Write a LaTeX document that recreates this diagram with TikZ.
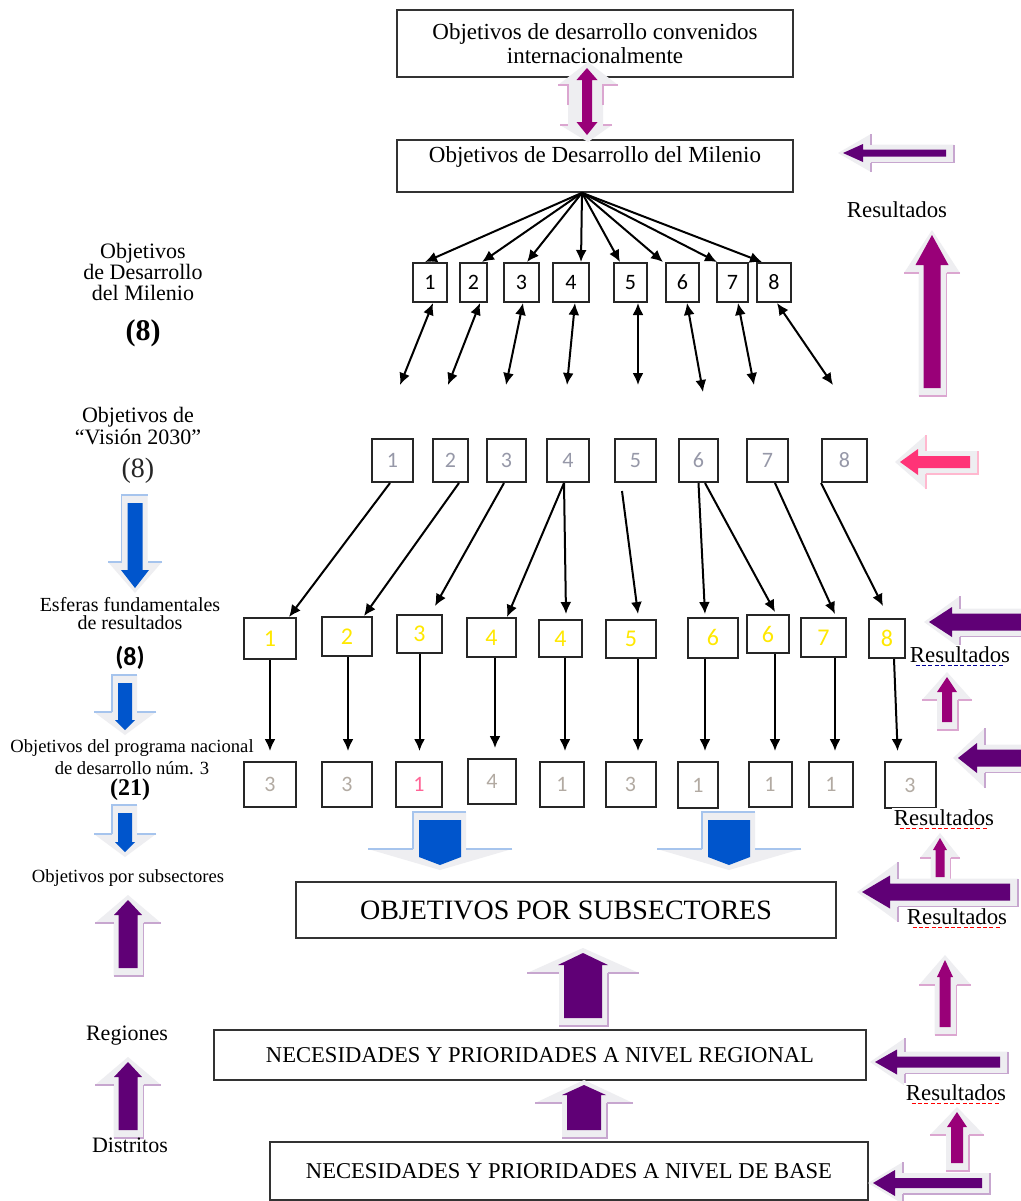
\documentclass[tikz,border=0pt]{standalone}
\usepackage{fontspec}
\setmainfont{Liberation Serif}
\newfontfamily\carlito{Carlito}
\usepackage{tikz}
\usetikzlibrary{arrows.meta}

\definecolor{plum}{RGB}{96,0,118}
\definecolor{magentap}{RGB}{153,0,120}
\definecolor{hotpink}{RGB}{255,51,119}
\definecolor{wordblue}{RGB}{0,85,204}
\definecolor{halogray}{RGB}{238,238,241}
\definecolor{numgray}{RGB}{150,152,168}
\definecolor{numbeige}{RGB}{178,170,162}
\definecolor{numpink}{RGB}{255,100,150}
\definecolor{numyellow}{RGB}{255,232,0}

% block arrow with its shadow: tip x, tip y, turn, length, shaft half, head half, head length, colour, shadow head half
\newcommand{\BlockArrow}[9]{%
  \begin{scope}[shift={(#1,#2)},#3]
    \fill[halogray] (0,-5) -- (#9,{#7+8}) -- ({#5+6},{#7+8}) -- ({#5+6},{#4+8}) -- ({-#5-5},{#4+8}) -- ({-#5-5},{#7+8}) -- (-#9,{#7+8}) -- cycle;
    \draw[#8!35,line width=0.8pt] (-#9,{#7+8}) -- ({-#5-5},{#7+8}) ({#5+6},{#7+8}) -- (#9,{#7+8})
      ({#5+6},{#7+8}) -- ({#5+6},{#4+8}) -- ({-#5-5},{#4+8});
    \fill[#8] (0,0) -- (#6,#7) -- (#5,#7) -- (#5,#4) -- (-#5,#4) -- (-#5,#7) -- (-#6,#7) -- cycle;
  \end{scope}}

\begin{document}
\begin{tikzpicture}[x=0.5pt, y=-0.5pt,
  BigBox/.style = {draw=black!80, line width=0.8pt, fill=white, align=center, inner sep=0pt},
  NumBox/.style = {draw=black!85, line width=1pt, fill=white, inner sep=0pt, font=\carlito\fontsize{11}{11}\selectfont},
  Link/.style = {-{Latex[length=6pt,width=5.5pt]}, line width=1pt},
  BiLink/.style = {{Latex[length=6pt,width=5.5pt]}-{Latex[length=6pt,width=5.5pt]}, line width=1pt},
  SideText/.style = {align=center, inner sep=0pt},
  ResultText/.style = {fill=white, inner sep=1pt, font=\fontsize{11.4}{12}\selectfont},
  Squiggle/.style = {dash pattern=on 2pt off 1.2pt, line width=0.4pt}]

  \useasboundingbox (0,0) rectangle (1021,1201);
  \fill[white] (0,0) rectangle (1021,1201);
  \clip (0,0) rectangle (1021,1201);

  % main boxes
  \node[BigBox, minimum width=198pt, minimum height=33.5pt, font=\fontsize{11.5}{12}\selectfont] (intl) at (595,43.5)
    {Objetivos de desarrollo convenidos\\internacionalmente};
  \node[BigBox, minimum width=198pt, minimum height=26pt, text depth=11pt, font=\fontsize{11.5}{12}\selectfont] (mdg) at (595,166)
    {Objetivos de Desarrollo del Milenio};
  \node[BigBox, minimum width=270pt, minimum height=28pt, font=\fontsize{14}{14}\selectfont] (subsect) at (566,910)
    {OBJETIVOS POR SUBSECTORES};
  \node[BigBox, minimum width=326pt, minimum height=25pt, font=\fontsize{11.3}{12}\selectfont] (regional) at (540,1055)
    {NECESIDADES Y PRIORIDADES A NIVEL REGIONAL};
  \node[BigBox, minimum width=299pt, minimum height=29pt, font=\fontsize{11.3}{12}\selectfont] (base) at (569,1171)
    {NECESIDADES Y PRIORIDADES A NIVEL DE BASE};

  % Milenio goals
  \node[NumBox, minimum width=17pt, minimum height=19.5pt] (a1) at (430,282.5) {1};
  \node[NumBox, minimum width=13.5pt, minimum height=19.5pt] (a2) at (473.5,282.5) {2};
  \node[NumBox, minimum width=17.5pt, minimum height=19.5pt] (a3) at (521.5,282.5) {3};
  \node[NumBox, minimum width=18pt, minimum height=19.5pt] (a4) at (571,282.5) {4};
  \node[NumBox, minimum width=16.5pt, minimum height=19.5pt] (a5) at (630.5,282.5) {5};
  \node[NumBox, minimum width=16.5pt, minimum height=19.5pt] (a6) at (682.5,282.5) {6};
  \node[NumBox, minimum width=15.5pt, minimum height=19.5pt] (a7) at (732.5,282.5) {7};
  \node[NumBox, minimum width=17pt, minimum height=19.5pt] (a8) at (774,282.5) {8};

  % Vision 2030 goals
  \node[NumBox, text=numgray, minimum width=20.5pt, minimum height=21.5pt] (b1) at (392.5,460.5) {1};
  \node[NumBox, text=numgray, minimum width=17.5pt, minimum height=21.5pt] (b2) at (450.5,460.5) {2};
  \node[NumBox, text=numgray, minimum width=19.5pt, minimum height=21.5pt] (b3) at (506.5,460.5) {3};
  \node[NumBox, text=numgray, minimum width=21pt, minimum height=21.5pt] (b4) at (568,460.5) {4};
  \node[NumBox, text=numgray, minimum width=20.5pt, minimum height=21.5pt] (b5) at (635.5,460.5) {5};
  \node[NumBox, text=numgray, minimum width=19.5pt, minimum height=21.5pt] (b6) at (698.5,460.5) {6};
  \node[NumBox, text=numgray, minimum width=20.5pt, minimum height=21.5pt] (b7) at (767.5,460.5) {7};
  \node[NumBox, text=numgray, minimum width=22.5pt, minimum height=21.5pt] (b8) at (844.5,460.5) {8};

  % result areas
  \node[NumBox, text=numyellow, font=\carlito\fontsize{12}{12}\selectfont, minimum width=26pt, minimum height=20.5pt] (c1) at (270,638.5) {1};
  \node[NumBox, text=numyellow, font=\carlito\fontsize{12}{12}\selectfont, minimum width=25pt, minimum height=19.5pt] (c2) at (347,636.5) {2};
  \node[NumBox, text=numyellow, font=\carlito\fontsize{12}{12}\selectfont, minimum width=22.5pt, minimum height=19pt] (c3) at (419.5,634) {3};
  \node[NumBox, text=numyellow, font=\carlito\fontsize{12}{12}\selectfont, minimum width=24.5pt, minimum height=19.5pt] (c4) at (491.5,637.5) {4};
  \node[NumBox, text=numyellow, font=\carlito\fontsize{12}{12}\selectfont, minimum width=21.5pt, minimum height=18.5pt] (c5) at (560.5,638.5) {4};
  \node[NumBox, text=numyellow, font=\carlito\fontsize{12}{12}\selectfont, minimum width=25pt, minimum height=19pt] (c6) at (631,639) {5};
  \node[NumBox, text=numyellow, font=\carlito\fontsize{12}{12}\selectfont, minimum width=25pt, minimum height=20pt] (c7) at (713,637.5) {6};
  \node[NumBox, text=numyellow, font=\carlito\fontsize{12}{12}\selectfont, minimum width=21pt, minimum height=19pt] (c8) at (768,634) {6};
  \node[NumBox, text=numyellow, font=\carlito\fontsize{12}{12}\selectfont, minimum width=22.5pt, minimum height=19.5pt] (c9) at (823.5,637.5) {7};
  \node[NumBox, text=numyellow, font=\carlito\fontsize{12}{12}\selectfont, minimum width=18pt, minimum height=19.5pt] (c10) at (887,638.5) {8};

  % national programme goals
  \node[NumBox, text=numbeige, minimum width=26pt, minimum height=22.5pt] (d1) at (270,784.5) {3};
  \node[NumBox, text=numbeige, minimum width=25pt, minimum height=22.5pt] (d2) at (347,784.5) {3};
  \node[NumBox, text=numpink, minimum width=23pt, minimum height=22.5pt] (d3) at (419,784.5) {1};
  \node[NumBox, text=numbeige, minimum width=24pt, minimum height=22.5pt] (d4) at (492,781.5) {4};
  \node[NumBox, text=numbeige, minimum width=22pt, minimum height=22.5pt] (d5) at (562,784.5) {1};
  \node[NumBox, text=numbeige, minimum width=25pt, minimum height=22.5pt] (d6) at (630.5,784.5) {3};
  \node[NumBox, text=numbeige, minimum width=20pt, minimum height=23pt] (d7) at (698,785) {1};
  \node[NumBox, text=numbeige, minimum width=21.5pt, minimum height=22.5pt] (d8) at (770,784.5) {1};
  \node[NumBox, text=numbeige, minimum width=22pt, minimum height=22.5pt] (d9) at (831,784.5) {1};
  \node[NumBox, text=numbeige, minimum width=25.5pt, minimum height=23pt] (d10) at (910,785) {3};

  % fan from the Milenio box
  \coordinate (hub) at ([xshift=-6.5pt]mdg.south);
  \path[Link]
    (hub) edge ([xshift=-2.5pt]a1.north)
    (hub) edge ([xshift=4.25pt]a2.north)
    (hub) edge ([xshift=2.75pt]a3.north)
    (hub) edge ([xshift=5pt]a4.north)
    (hub) edge ([xshift=-5.25pt]a5.north)
    (hub) edge ([xshift=-9.75pt]a6.north)
    (hub) edge ([xshift=-7.75pt]a7.north)
    (hub) edge ([xshift=-6pt]a8.north);

  \coordinate (e1) at (400,385);
  \coordinate (e2) at (448,385);
  \coordinate (e3) at (506,385);
  \coordinate (e4) at (567,385);
  \coordinate (e5) at (638,385);
  \coordinate (e6) at (703,392);
  \coordinate (e7) at (754,385);
  \coordinate (e8) at (833,385);
  \path[BiLink]
    ([xshift=1.5pt]a1.south) edge (e1)
    ([xshift=3.25pt]a2.south) edge (e2)
    ([xshift=0.75pt]a3.south) edge (e3)
    ([xshift=2pt]a4.south) edge (e4)
    ([xshift=3.75pt]a5.south) edge (e5)
    ([xshift=2.25pt]a6.south) edge (e6)
    ([xshift=2.75pt]a7.south) edge (e7)
    ([xshift=1.5pt]a8.south) edge (e8);

  % Vision 2030 to result areas
  \path[Link]
    ([xshift=-1.25pt]b1.south) edge ([xshift=9.5pt]c1.north)
    ([xshift=4.25pt]b2.south) edge ([xshift=8.5pt]c2.north)
    ([xshift=-1.25pt]b3.south) edge ([xshift=7.75pt,yshift=4pt]c3.north)
    ([xshift=-2pt]b4.south) edge ([xshift=7.75pt]c4.north)
    ([xshift=-2pt]b4.south) edge ([xshift=2.75pt,yshift=2.5pt]c5.north)
    ([xshift=-6.75pt,yshift=-4pt]b5.south) edge ([xshift=3.5pt,yshift=2.5pt]c6.north)
    (b6.south) edge ([xshift=-4pt,yshift=1.25pt]c7.north)
    ([xshift=3.25pt]b6.south) edge ([xshift=3.5pt,yshift=1pt]c8.north)
    ([xshift=3.75pt]b7.south) edge ([xshift=5.75pt,yshift=1.5pt]c9.north)
    (b8.south west) edge ([xshift=-2pt,yshift=6pt]c10.north);

  % result areas to programme goals
  \path[Link, shorten >=5pt]
    (c1.south) edge (c1.south |- d1.north)
    ([xshift=0.5pt]c2.south) edge ([xshift=0.5pt]c2.south |- d2.north)
    (c3.south) edge (c3.south |- d3.north)
    ([xshift=1.75pt]c4.south) edge ([xshift=1.75pt]c4.south |- d4.north)
    ([xshift=2.25pt]c5.south) edge ([xshift=2.25pt]c5.south |- d5.north)
    ([xshift=3.5pt]c6.south) edge ([xshift=3.5pt]c6.south |- d6.north)
    ([xshift=-4pt]c7.south) edge ([xshift=-4pt]c7.south |- d7.north)
    ([xshift=3.5pt]c8.south) edge ([xshift=3.5pt]c8.south |- d8.north)
    ([xshift=5.75pt]c9.south) edge ([xshift=5.75pt]c9.south |- d9.north)
    ([xshift=3.5pt]c10.south) edge ([xshift=-6pt]d10.north);

  % double arrow between the two top boxes
  \fill[halogray] (588,62) -- (618,85) -- (603,85) -- (603,125) -- (612,125) -- (588,142) -- (560,125) -- (568,125) -- (568,85) -- (558,85) -- cycle;
  \draw[magentap!35, line width=0.8pt] (558,85) -- (568,85) -- (568,105) (603,105) -- (603,85) -- (618,85) (560,125) -- (568,125) (603,125) -- (612,125);
  \fill[magentap] (587,68) -- (597.5,80) -- (592,80) -- (592,122) -- (597.5,122) -- (587,135) -- (576.5,122) -- (582,122) -- (582,80) -- (576.5,80) -- cycle;

  % block arrows, middle
  \BlockArrow{440}{865}{rotate=180}{45}{21}{21}{8}{wordblue}{72}
  \BlockArrow{729}{865}{rotate=180}{45}{21}{21}{8}{wordblue}{72}
  \BlockArrow{583}{953}{rotate=0}{65}{19}{25}{12}{plum}{56}
  \BlockArrow{584}{1085}{rotate=0}{45}{17}{22}{10}{plum}{49}

  % block arrows, left column
  \BlockArrow{135}{588}{rotate=180}{85}{7.5}{14}{18}{wordblue}{27}
  \BlockArrow{125}{730}{rotate=180}{47}{7}{10}{10}{wordblue}{31}
  \BlockArrow{125}{852}{rotate=180}{39}{7}{10}{10}{wordblue}{31}
  \BlockArrow{128}{900}{rotate=0}{68}{9.5}{14}{15}{plum}{33}
  \BlockArrow{128}{1062}{rotate=0}{68}{9.5}{14}{15}{plum}{33}

  % block arrows, right column
  \BlockArrow{843}{153}{rotate=90,xscale=-1}{103}{3.5}{9}{20}{plum}{19}
  \BlockArrow{932}{235}{rotate=0}{153}{8.5}{16.5}{30}{magentap}{28}
  \BlockArrow{900}{462}{rotate=90,xscale=-1}{70}{6}{13}{18}{hotpink}{27}
  \BlockArrow{929}{622}{rotate=90,xscale=-1}{100}{8.5}{15}{23}{plum}{26}
  \BlockArrow{947}{677}{rotate=0}{45}{5}{10}{15}{magentap}{25}
  \BlockArrow{958}{758}{rotate=90,xscale=-1}{70}{8.5}{15}{19}{plum}{30}
  \BlockArrow{940}{838}{rotate=0}{39}{4.5}{7}{12}{magentap}{20}
  \BlockArrow{862}{892}{rotate=90,xscale=-1}{148}{8.5}{16.5}{28}{plum}{30}
  \BlockArrow{945}{960}{rotate=0}{67}{5.5}{8}{17}{magentap}{26}
  \BlockArrow{875}{1062}{rotate=90,xscale=-1}{125}{5.5}{12.5}{22}{plum}{24}
  \BlockArrow{957}{1112}{rotate=0}{51}{6}{10}{15}{magentap}{27}
  \BlockArrow{873}{1183}{rotate=90,xscale=-1}{109}{5}{13}{22}{plum}{21}

  % left column texts
  \node[SideText, font=\fontsize{11}{10.5}\selectfont] (lblmdg) at (143,272) {Objetivos\\de Desarrollo\\del Milenio};
  \node[SideText, font=\bfseries\fontsize{15}{15}\selectfont] (lblmdgnum) at (143,333) {(8)};
  \node[SideText, font=\fontsize{11}{11}\selectfont] (lblvision) at (138,426) {Objetivos de\\“Visión 2030”};
  \node[SideText, text=black!85, font=\fontsize{14}{14}\selectfont] (lblvisionnum) at (138,471) {(8)};
  \node[SideText, font=\fontsize{10}{9}\selectfont] (lblesferas) at (130,614) {Esferas fundamentales\\de resultados};
  \node[SideText, font=\carlito\bfseries\fontsize{13}{13}\selectfont] (lblesferasnum) at (130,658) {(8)};
  \node[SideText, font=\fontsize{9.3}{11}\selectfont] (lblprog) at (132,757) {Objetivos del programa nacional\\de desarrollo núm. 3};
  \node[SideText, font=\bfseries\fontsize{12}{12}\selectfont] (lblprognum) at (130,790) {(21)};
  \node[SideText, font=\fontsize{9.3}{11}\selectfont] (lblsubsect) at (128,878) {Objetivos por subsectores};
  \node[SideText, font=\fontsize{11}{11}\selectfont] (lblregiones) at (127,1036) {Regiones};
  \node[SideText, font=\fontsize{11}{11}\selectfont] (lbldistritos) at (130,1145) {Distritos};

  % right column texts
  \node[ResultText] (res1) at (897,210) {Resultados};
  \node[ResultText] (res2) at (960,655) {Resultados};
  \node[ResultText] (res3) at (944,818) {Resultados};
  \node[ResultText] (res4) at (957,917) {Resultados};
  \node[ResultText] (res5) at (956,1093) {Resultados};
  \draw[Squiggle, blue!60!black] ([xshift=4pt]res2.south west) -- ([xshift=-4pt]res2.south east);
  \draw[Squiggle, red] ([xshift=4pt]res3.south west) -- ([xshift=-4pt]res3.south east);
  \draw[Squiggle, red] ([xshift=4pt]res4.south west) -- ([xshift=-4pt]res4.south east);
  \draw[Squiggle, red] ([xshift=4pt]res5.south west) -- ([xshift=-4pt]res5.south east);
\end{tikzpicture}
\end{document}
